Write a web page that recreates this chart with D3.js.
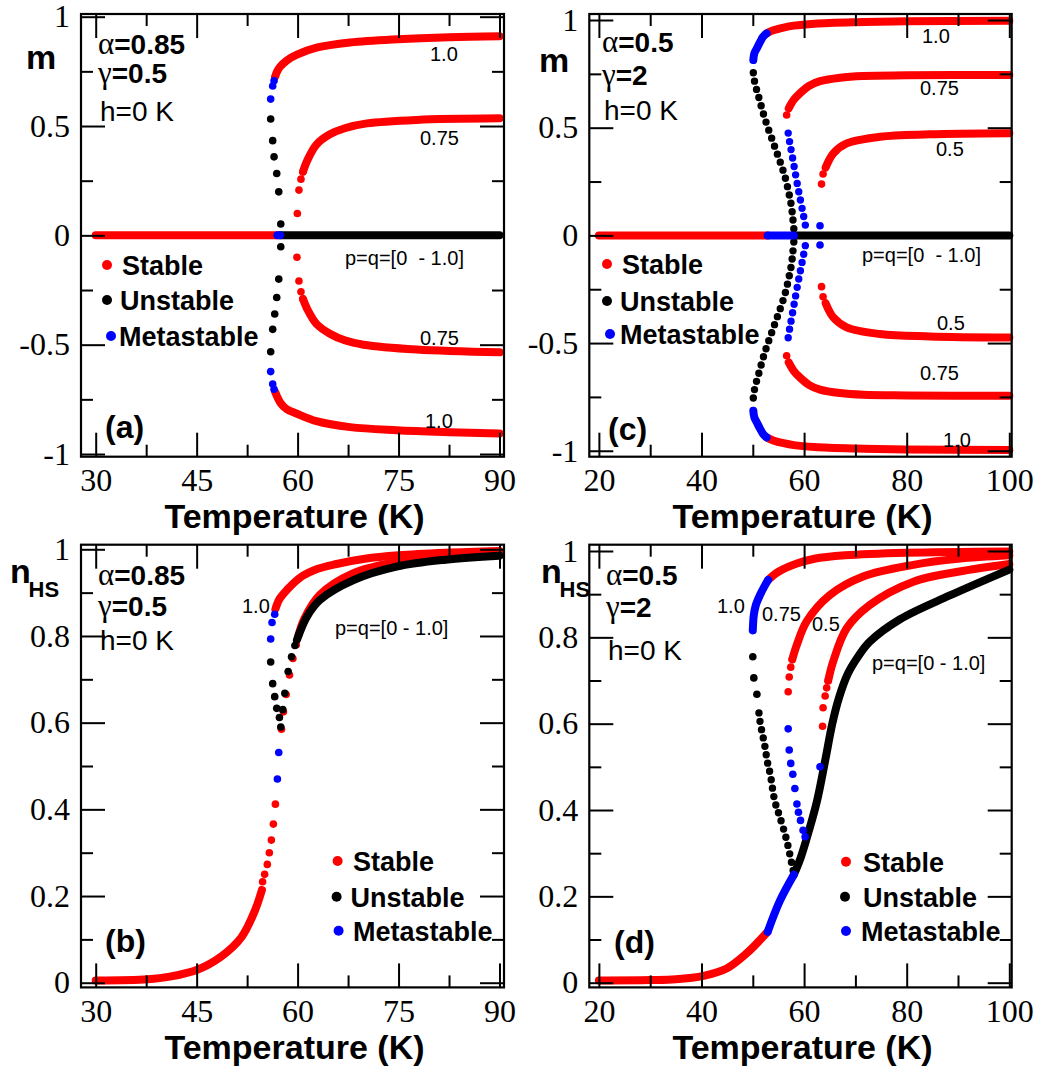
<!DOCTYPE html>
<html>
<head>
<meta charset="utf-8">
<script src="https://cdn.jsdelivr.net/npm/d3@7"></script>
<style>
  body { margin: 0; background: #fff; }
</style>
</head>
<body>
<div id="wrapper"></div>
<script>
// ---------- tick values / labels ----------
const tempTicksAB = [30, 45, 60, 75, 90];
const tempMinorAB = [37.5, 52.5, 67.5, 82.5];
const tempTicksCD = [20, 40, 60, 80, 100];
const tempMinorCD = [30, 50, 70, 90];
const mTicks = [-1, -0.5, 0, 0.5, 1];
const mTickLabels = ["-1", "-0.5", "0", "0.5", "1"];
const mMinor = [-0.75, -0.25, 0.25, 0.75];
const nTicks = [0, 0.2, 0.4, 0.6, 0.8, 1];
const nTickLabels = ["0", "0.2", "0.4", "0.6", "0.8", "1"];
const nMinor = [0.1, 0.3, 0.5, 0.7, 0.9];

const legendLabels = ["Stable", "Unstable", "Metastable"];

// ---------- panel (a): m vs T, alpha=0.85 ----------
const aZeroStable = [[30, 0], [57.0, 0]];
const aZeroMeta = [[57.0, 0], [57.4, 0]];
const aZeroUnstable = [[57.4, 0], [90, 0]];
const aUp10Stable = [[56.65, 0.725], [57.0, 0.752], [57.4, 0.771], [58.4, 0.800], [59.9, 0.826], [62.8, 0.858], [67.8, 0.882], [74.9, 0.897], [82.6, 0.906], [90, 0.910]];
const aUp10Meta = [[56.0, 0.623], [56.3, 0.683], [56.5, 0.707]];
const aUp10Unstable = [[57.5, 0.052], [57.2, 0.199], [56.9, 0.283], [56.5, 0.359], [56.3, 0.433], [56.0, 0.532]];
const aLo10Unstable = [[57.5, -0.052], [57.2, -0.200], [56.9, -0.284], [56.6, -0.360], [56.3, -0.430], [56.0, -0.532]];
const aLo10Meta = [[56.0, -0.623], [56.3, -0.680], [56.5, -0.704]];
const aLo10Stable = [[56.65, -0.715], [57.5, -0.768], [58.4, -0.795], [59.9, -0.816], [62.8, -0.850], [67.8, -0.877], [74.7, -0.891], [82.6, -0.900], [90, -0.906]];
const aUp75Dots = [[59.96, 0.100], [60.2, 0.207], [60.5, 0.257], [60.8, 0.291]];
const aUp75Stable = [[60.8, 0.291], [61.4, 0.340], [62.8, 0.415], [64.8, 0.462], [67, 0.490], [70.3, 0.512], [77.7, 0.528], [90, 0.535]];
const aLo75Dots = [[59.9, -0.100], [60.2, -0.209], [60.5, -0.258], [60.8, -0.291]];
const aLo75Stable = [[60.8, -0.291], [61.4, -0.335], [62.8, -0.405], [64.8, -0.450], [67, -0.480], [69.8, -0.500], [77.7, -0.522], [90, -0.535]];

// ---------- panel (b): nHS vs T, alpha=0.85 ----------
const bLowStable = [[30, 0.005], [37.7, 0.008], [41, 0.014], [45.1, 0.030], [48.6, 0.060], [51.7, 0.106], [53.7, 0.168], [54.7, 0.214]];
const bLowDots = [[54.8, 0.233], [55.1, 0.250], [55.5, 0.273], [55.8, 0.300], [56.1, 0.329], [56.4, 0.366], [56.7, 0.412]];
const bLowMeta = [[57.0, 0.470], [57.2, 0.531]];
const bUp75Dots = [[57.6, 0.585], [57.9, 0.625], [58.3, 0.665], [58.8, 0.710], [59.3, 0.748], [59.8, 0.780]];
const bUp75Stable = [[60.1, 0.800], [61, 0.840], [63.3, 0.895], [68.3, 0.945], [74.7, 0.971], [82, 0.983], [90, 0.990]];
const bZeroUnstableDots = [[57.5, 0.590], [57.8, 0.630], [58.1, 0.668], [58.6, 0.718], [59.1, 0.752], [59.6, 0.778]];
const bZeroUnstable = [[59.9, 0.791], [61.4, 0.845], [63.3, 0.883], [68.3, 0.929], [74.7, 0.960], [82, 0.976], [90, 0.985]];
const bUp10Unstable = [[57.3, 0.612], [56.9, 0.633], [56.6, 0.660], [56.3, 0.690], [56.0, 0.740]];
const bUp10Meta = [[56.0, 0.793], [56.2, 0.831], [56.6, 0.850]];
const bUp10Stable = [[56.7, 0.862], [57.3, 0.885], [58.4, 0.906], [60.4, 0.935], [63, 0.955], [65.8, 0.966], [70, 0.978], [75, 0.986], [82, 0.992], [90, 0.996]];

// ---------- panel (c): m vs T, alpha=0.5 ----------
const cZeroStable = [[20, 0], [52.9, 0]];
const cZeroMeta = [[52.9, 0], [58.0, 0]];
const cZeroUnstable = [[58.0, 0], [100, 0]];
const cUp10Meta = [[50.1, 0.814], [50.3, 0.845], [50.8, 0.869], [51.4, 0.897], [52.0, 0.922], [52.7, 0.938]];
const cUp10Stable = [[52.7, 0.938], [54, 0.952], [56, 0.965], [58, 0.974], [62, 0.983], [70, 0.990], [80, 0.994], [100, 0.997]];
const cUp10Unstable = [[50.1, 0.755], [50.3, 0.720], [50.7, 0.680], [51.3, 0.630], [52.0, 0.570], [52.8, 0.510], [53.7, 0.450], [54.6, 0.390], [55.5, 0.330], [56.3, 0.270], [57.0, 0.200], [57.5, 0.140], [57.8, 0.080], [58.0, 0.030]];
const cUp75Dots = [[56.6, 0.559]];
const cUp75Stable = [[57.0, 0.590], [58.0, 0.630], [59.2, 0.660], [61.0, 0.695], [63.1, 0.716], [67.0, 0.732], [71.5, 0.740], [80, 0.743], [100, 0.745]];
const cUp75Meta = [[56.9, 0.475], [57.2, 0.430], [57.6, 0.380], [58.2, 0.300], [58.9, 0.210], [59.4, 0.150], [59.9, 0.090], [60.3, 0.040]];
const cUp50Dots = [[63.4, 0.238], [63.7, 0.285]];
const cUp50Stable = [[64.2, 0.315], [65.7, 0.381], [68.3, 0.427], [74.8, 0.458], [84.5, 0.469], [100, 0.474]];
const cUp50Meta = [[63.1, 0.045]];
const cLo10Meta = [[50.1, -0.814], [50.3, -0.845], [50.8, -0.869], [51.4, -0.897], [52.0, -0.922], [52.7, -0.938]];
const cLo10Stable = [[52.7, -0.938], [54, -0.952], [56, -0.965], [58, -0.974], [62, -0.983], [70, -0.990], [80, -0.994], [100, -0.997]];
const cLo10Unstable = [[50.1, -0.755], [50.3, -0.720], [50.7, -0.680], [51.3, -0.630], [52.0, -0.570], [52.8, -0.510], [53.7, -0.450], [54.6, -0.390], [55.5, -0.330], [56.3, -0.270], [57.0, -0.200], [57.5, -0.140], [57.8, -0.080], [58.0, -0.030]];
const cLo75Dots = [[56.6, -0.559]];
const cLo75Stable = [[57.0, -0.590], [58.0, -0.630], [59.2, -0.660], [61.0, -0.695], [63.1, -0.716], [67.0, -0.732], [71.5, -0.740], [80, -0.743], [100, -0.745]];
const cLo75Meta = [[56.9, -0.475], [57.2, -0.430], [57.6, -0.380], [58.2, -0.300], [58.9, -0.210], [59.4, -0.150], [59.9, -0.090], [60.3, -0.040]];
const cLo50Dots = [[63.4, -0.238], [63.7, -0.285]];
const cLo50Stable = [[64.2, -0.315], [65.7, -0.381], [68.3, -0.427], [74.8, -0.458], [84.5, -0.469], [100, -0.474]];
const cLo50Meta = [[63.1, -0.045]];

// ---------- panel (d): nHS vs T, alpha=0.5 ----------
const dZeroStable = [[20, 0.005], [30, 0.006], [35, 0.008], [40.4, 0.016], [44.9, 0.033], [48.8, 0.068], [52.9, 0.118]];
const dZeroMeta = [[52.9, 0.118], [55.3, 0.190], [58.0, 0.250]];
const dZeroUnstable = [[58.0, 0.250], [59.2, 0.285], [60.4, 0.330], [62.5, 0.420], [64.1, 0.514], [65.5, 0.600], [66.8, 0.660], [68.5, 0.715], [70.5, 0.755], [72.8, 0.790], [78.7, 0.842], [88.4, 0.897], [100, 0.957]];
const dUp10Meta = [[50.0, 0.816], [50.2, 0.852], [50.6, 0.875], [51.4, 0.898], [52.4, 0.921], [53.0, 0.933]];
const dUp10Stable = [[53.0, 0.933], [55, 0.952], [58.6, 0.971], [62, 0.982], [68, 0.990], [80, 0.996], [100, 0.999]];
const dUp10UnstableDots = [[50.0, 0.755], [50.2, 0.706], [50.8, 0.668]];
const dUp10Unstable = [[51.2, 0.625], [51.5, 0.598], [51.9, 0.575], [52.4, 0.545], [52.8, 0.514], [53.4, 0.483], [54.3, 0.420], [55.3, 0.383], [56.6, 0.330], [57.6, 0.275], [58.0, 0.252]];
const dUp75Dots = [[56.9, 0.674], [57.1, 0.708], [57.4, 0.731], [57.7, 0.749]];
const dUp75Stable = [[57.7, 0.749], [58.6, 0.783], [60.5, 0.837], [65.0, 0.898], [71.5, 0.941], [81.3, 0.968], [90, 0.982], [100, 0.990]];
const dUp75Meta = [[56.9, 0.588], [57.1, 0.539], [57.4, 0.508], [57.8, 0.483], [58.2, 0.450], [58.6, 0.414], [58.9, 0.395], [59.3, 0.376], [59.8, 0.353], [60.2, 0.338]];
const dUp50Dots = [[63.6, 0.594], [63.7, 0.637], [64.1, 0.664], [64.4, 0.683], [64.7, 0.700]];
const dUp50Stable = [[64.7, 0.700], [65.7, 0.745], [68.3, 0.821], [72.8, 0.875], [81.3, 0.929], [90, 0.952], [100, 0.970]];
const dUp50Meta = [[63.1, 0.500]];

// ---------- styling ----------
const RED = "#ff0000", BLACK = "#000000", BLUE = "#0000ff";
const legendColors = [RED, BLACK, BLUE];
const SANS = "'Liberation Sans', Arial, Helvetica, sans-serif";
const SERIF = "'Liberation Serif', 'Times New Roman', Times, serif";

const svg = d3.select("#wrapper")
  .append("svg")
    .attr("width", 1040)
    .attr("height", 1068);

const panels = [
  {
    left: 81, right: 504, top: 14, bottom: 456.7,
    xDomain: [27.816, 90.669], yDomain: [-1.0123, 1.0123],
    xTicks: tempTicksAB, xMinor: tempMinorAB,
    yTicks: mTicks, yLabels: mTickLabels, yMinor: mMinor,
    series: [
      { data: aZeroStable, color: RED, mode: "band" },
      { data: aUp10Stable, color: RED, mode: "band" },
      { data: aLo10Stable, color: RED, mode: "band" },
      { data: aUp75Stable, color: RED, mode: "band" },
      { data: aLo75Stable, color: RED, mode: "band" },
      { data: aUp75Dots, color: RED, mode: "dots" },
      { data: aLo75Dots, color: RED, mode: "dots" },
      { data: aZeroUnstable, color: BLACK, mode: "band" },
      { data: aUp10Unstable, color: BLACK, mode: "dots" },
      { data: aLo10Unstable, color: BLACK, mode: "dots" },
      { data: aZeroMeta, color: BLUE, mode: "band" },
      { data: aUp10Meta, color: BLUE, mode: "dots" },
      { data: aLo10Meta, color: BLUE, mode: "dots" },
    ],
    yTitle: { text: "m", x: 26, y: 69 },
    params: { x: 98, y: [54, 83, 121], alpha: "=0.85", gamma: "=0.5" },
    tag: { text: "(a)", x: 105, y: 438 },
    legend: { dotX: [107, 107, 111], dotY: [265, 300, 336], textX: [122, 120, 119] },
    notes: [
      { text: "1.0", x: 430, y: 61 },
      { text: "0.75", x: 420, y: 145 },
      { text: "p=q=[0  - 1.0]", x: 345, y: 265 },
      { text: "0.75", x: 420, y: 345 },
      { text: "1.0", x: 425, y: 428 },
    ],
  },
  {
    left: 81, right: 504, top: 544.7, bottom: 987.4,
    xDomain: [27.816, 90.669], yDomain: [-0.0108, 1.0106],
    xTicks: tempTicksAB, xMinor: tempMinorAB,
    yTicks: nTicks, yLabels: nTickLabels, yMinor: nMinor,
    series: [
      { data: bLowStable, color: RED, mode: "band" },
      { data: bLowDots, color: RED, mode: "dots" },
      { data: bUp75Dots, color: RED, mode: "dots" },
      { data: bUp75Stable, color: RED, mode: "band" },
      { data: bUp10Stable, color: RED, mode: "band" },
      { data: bZeroUnstableDots, color: BLACK, mode: "dots" },
      { data: bZeroUnstable, color: BLACK, mode: "band" },
      { data: bUp10Unstable, color: BLACK, mode: "dots" },
      { data: bLowMeta, color: BLUE, mode: "dots" },
      { data: bUp10Meta, color: BLUE, mode: "dots" },
    ],
    yTitle: { text: "n", sub: "HS", x: 10, y: 583 },
    params: { x: 98, y: [585, 616, 650], alpha: "=0.85", gamma: "=0.5" },
    tag: { text: "(b)", x: 105, y: 952 },
    legend: { dotX: [337.6, 336.6, 338.6], dotY: [861, 896.7, 930.7], textX: [353, 350.6, 353] },
    notes: [
      { text: "1.0", x: 242, y: 613 },
      { text: "p=q=[0 - 1.0]", x: 335, y: 635 },
    ],
  },
  {
    left: 589.3, right: 1011.7, top: 14, bottom: 456.7,
    xDomain: [18.129, 100.468], yDomain: [-1.0276, 1.0279],
    xTicks: tempTicksCD, xMinor: tempMinorCD,
    yTicks: mTicks, yLabels: mTickLabels, yMinor: mMinor,
    series: [
      { data: cZeroStable, color: RED, mode: "band" },
      { data: cUp10Stable, color: RED, mode: "band" },
      { data: cLo10Stable, color: RED, mode: "band" },
      { data: cUp75Dots, color: RED, mode: "dots" },
      { data: cLo75Dots, color: RED, mode: "dots" },
      { data: cUp75Stable, color: RED, mode: "band" },
      { data: cLo75Stable, color: RED, mode: "band" },
      { data: cUp50Dots, color: RED, mode: "dots" },
      { data: cLo50Dots, color: RED, mode: "dots" },
      { data: cUp50Stable, color: RED, mode: "band" },
      { data: cLo50Stable, color: RED, mode: "band" },
      { data: cZeroUnstable, color: BLACK, mode: "band" },
      { data: cUp10Unstable, color: BLACK, mode: "chain" },
      { data: cLo10Unstable, color: BLACK, mode: "chain" },
      { data: cZeroMeta, color: BLUE, mode: "band" },
      { data: cUp10Meta, color: BLUE, mode: "band" },
      { data: cLo10Meta, color: BLUE, mode: "band" },
      { data: cUp75Meta, color: BLUE, mode: "chain" },
      { data: cLo75Meta, color: BLUE, mode: "chain" },
      { data: cUp50Meta, color: BLUE, mode: "dots" },
      { data: cLo50Meta, color: BLUE, mode: "dots" },
    ],
    yTitle: { text: "m", x: 539, y: 71.7 },
    params: { x: 602, y: [52, 85, 120], alpha: "=0.5", gamma: "=2" },
    tag: { text: "(c)", x: 608, y: 440 },
    legend: { dotX: [607, 607, 610], dotY: [264, 301, 334], textX: [622, 620, 620] },
    notes: [
      { text: "1.0", x: 922, y: 43 },
      { text: "0.75", x: 920, y: 95 },
      { text: "0.5", x: 936, y: 156 },
      { text: "p=q=[0  - 1.0]", x: 862, y: 262 },
      { text: "0.5", x: 937, y: 330 },
      { text: "0.75", x: 920, y: 380 },
      { text: "1.0", x: 943, y: 447 },
    ],
  },
  {
    left: 589.3, right: 1011.7, top: 544.7, bottom: 987.4,
    xDomain: [18.129, 100.468], yDomain: [-0.0109, 1.0146],
    xTicks: tempTicksCD, xMinor: tempMinorCD,
    yTicks: nTicks, yLabels: nTickLabels, yMinor: nMinor,
    series: [
      { data: dZeroStable, color: RED, mode: "band" },
      { data: dUp10Stable, color: RED, mode: "band" },
      { data: dUp75Dots, color: RED, mode: "dots" },
      { data: dUp75Stable, color: RED, mode: "band" },
      { data: dUp50Dots, color: RED, mode: "dots" },
      { data: dUp50Stable, color: RED, mode: "band" },
      { data: dZeroUnstable, color: BLACK, mode: "band" },
      { data: dUp10UnstableDots, color: BLACK, mode: "dots" },
      { data: dUp10Unstable, color: BLACK, mode: "chain" },
      { data: dZeroMeta, color: BLUE, mode: "band" },
      { data: dUp10Meta, color: BLUE, mode: "band" },
      { data: dUp75Meta, color: BLUE, mode: "dots" },
      { data: dUp50Meta, color: BLUE, mode: "dots" },
    ],
    yTitle: { text: "n", sub: "HS", x: 541, y: 583 },
    params: { x: 606, y: [585, 617, 660], alpha: "=0.5", gamma: "=2" },
    tag: { text: "(d)", x: 614, y: 953 },
    legend: { dotX: [846, 845, 846], dotY: [861.7, 896.7, 931], textX: [863, 863, 861] },
    notes: [
      { text: "1.0", x: 717, y: 613 },
      { text: "0.75", x: 762, y: 621 },
      { text: "0.5", x: 812, y: 631 },
      { text: "p=q=[0 - 1.0]", x: 872, y: 670 },
    ],
  },
];

panels.forEach(drawPanel);

function drawPanel(p) {
  const x = d3.scaleLinear().domain(p.xDomain).range([p.left, p.right]);
  const y = d3.scaleLinear().domain(p.yDomain).range([p.bottom, p.top]);
  const g = svg.append("g");

  // data first, axes are drawn on top of it
  const line = d3.line()
    .x(d => x(d[0]))
    .y(d => y(d[1]))
    .curve(d3.curveCatmullRom.alpha(0.5));

  p.series.forEach(s => {
    if (s.mode === "dots") {
      g.append("g").selectAll("circle")
        .data(s.data)
        .join("circle")
          .attr("cx", d => x(d[0]))
          .attr("cy", d => y(d[1]))
          .attr("r", 3.8)
          .attr("fill", s.color);
    } else {
      const path = g.append("path")
        .attr("d", line(s.data))
        .attr("fill", "none")
        .attr("stroke", s.color)
        .attr("stroke-linecap", "round")
        .attr("stroke-linejoin", "round");
      if (s.mode === "band") {
        path.attr("stroke-width", 8);
      } else {
        path.attr("stroke-width", 7.4).attr("stroke-dasharray", "0 8.5");
      }
    }
  });

  // axes: major + minor ticks on all four sides, pointing inward
  const axes = g.append("g");
  const addAxis = (axis, tx, ty) => axes.append("g")
    .attr("transform", `translate(${tx},${ty})`)
    .call(axis);

  addAxis(d3.axisBottom(x).tickValues(p.xTicks).tickFormat(d => d)
    .tickSizeInner(-24).tickSizeOuter(0).tickPadding(12), 0, p.bottom);
  addAxis(d3.axisBottom(x).tickValues(p.xMinor).tickFormat("")
    .tickSizeInner(-12).tickSizeOuter(0), 0, p.bottom);
  addAxis(d3.axisTop(x).tickValues(p.xTicks).tickFormat("")
    .tickSizeInner(-24).tickSizeOuter(0), 0, p.top);
  addAxis(d3.axisTop(x).tickValues(p.xMinor).tickFormat("")
    .tickSizeInner(-12).tickSizeOuter(0), 0, p.top);
  addAxis(d3.axisLeft(y).tickValues(p.yTicks).tickFormat((d, i) => p.yLabels[i])
    .tickSizeInner(-24).tickSizeOuter(0).tickPadding(11), p.left, 0);
  addAxis(d3.axisLeft(y).tickValues(p.yMinor).tickFormat("")
    .tickSizeInner(-12).tickSizeOuter(0), p.left, 0);
  addAxis(d3.axisRight(y).tickValues(p.yTicks).tickFormat("")
    .tickSizeInner(-24).tickSizeOuter(0), p.right, 0);
  addAxis(d3.axisRight(y).tickValues(p.yMinor).tickFormat("")
    .tickSizeInner(-12).tickSizeOuter(0), p.right, 0);

  axes.selectAll(".domain").remove();
  axes.selectAll(".tick line").attr("stroke", "#000").attr("stroke-width", 2);
  axes.selectAll(".tick text")
    .attr("fill", "#000")
    .attr("font-family", null)
    .style("font-family", SERIF)
    .style("font-size", "32px");

  axes.append("rect")
    .attr("x", p.left)
    .attr("y", p.top)
    .attr("width", p.right - p.left)
    .attr("height", p.bottom - p.top)
    .attr("fill", "none")
    .attr("stroke", "#000")
    .attr("stroke-width", 2.2);

  // axis titles
  g.append("text")
    .attr("x", (p.left + p.right) / 2 + 2)
    .attr("y", p.bottom + 71.5)
    .attr("text-anchor", "middle")
    .style("font-family", SANS)
    .attr("font-weight", "bold")
    .attr("font-size", 34)
    .text("Temperature (K)");

  g.append("text")
    .attr("x", p.yTitle.x)
    .attr("y", p.yTitle.y)
    .style("font-family", SANS)
    .attr("font-weight", "bold")
    .attr("font-size", 34)
    .text(p.yTitle.text);
  if (p.yTitle.sub) {
    g.append("text")
      .attr("x", p.yTitle.x + 18.5)
      .attr("y", p.yTitle.y + 14)
      .style("font-family", SANS)
      .attr("font-weight", "bold")
      .attr("font-size", 22)
      .text(p.yTitle.sub);
  }

  // parameter block
  const param = (greek, rest, row) => {
    const t = g.append("text")
      .attr("x", p.params.x)
      .attr("y", p.params.y[row]);
    t.append("tspan")
      .style("font-family", SERIF)
      .attr("font-size", 31)
      .text(greek);
    t.append("tspan")
      .style("font-family", SANS)
      .attr("font-weight", "bold")
      .attr("font-size", 28)
      .text(rest);
  };
  param("α", p.params.alpha, 0);
  param("γ", p.params.gamma, 1);
  g.append("text")
    .attr("x", p.params.x + 2)
    .attr("y", p.params.y[2])
    .style("font-family", SANS)
    .attr("font-size", 28)
    .text("h=0 K");

  // panel tag
  g.append("text")
    .attr("x", p.tag.x)
    .attr("y", p.tag.y)
    .style("font-family", SANS)
    .attr("font-weight", "bold")
    .attr("font-size", 32)
    .text(p.tag.text);

  // legend
  legendLabels.forEach((name, i) => {
    g.append("circle")
      .attr("cx", p.legend.dotX[i])
      .attr("cy", p.legend.dotY[i])
      .attr("r", 5)
      .attr("fill", legendColors[i]);
    g.append("text")
      .attr("x", p.legend.textX[i])
      .attr("y", p.legend.dotY[i] + 10)
      .style("font-family", SANS)
      .attr("font-weight", "bold")
      .attr("font-size", 27)
      .text(name);
  });

  // curve notes
  p.notes.forEach(n => {
    g.append("text")
      .attr("x", n.x)
      .attr("y", n.y)
      .style("font-family", SANS)
      .attr("font-size", 20)
      .style("white-space", "pre")
      .text(n.text);
  });
}
</script>
</body>
</html>
